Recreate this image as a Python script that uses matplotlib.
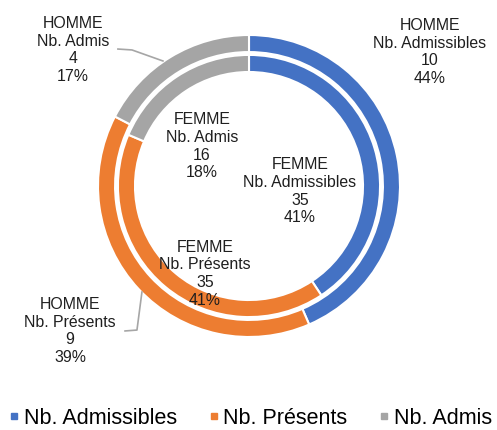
import matplotlib.pyplot as plt
from matplotlib.lines import Line2D

plt.rcParams['font.family'] = ['Liberation Sans', 'DejaVu Sans']

categories = ['Nb. Admissibles', 'Nb. Présents', 'Nb. Admis']
homme = [10, 9, 4]
femme = [35, 35, 16]
homme_pct = ['44%', '39%', '17%']
femme_pct = ['41%', '41%', '18%']
colors = ['#4472C4', '#ED7D31', '#A5A5A5']
text_col = '#1f1f1f'

W, H = 497, 430
cx, cy, R = 249, 186, 151

fig = plt.figure(figsize=(W / 100, H / 100), dpi=100)
ax = fig.add_axes([(cx - R) / W, (H - cy - R) / H, 2 * R / W, 2 * R / H])
ax.set_axis_off()

ring_w = 0.113
ax.pie(homme, radius=1.0, colors=colors, startangle=90, counterclock=False,
       wedgeprops=dict(width=ring_w, edgecolor='white', linewidth=1.5))
ax.pie(femme, radius=0.868, colors=colors, startangle=90, counterclock=False,
       wedgeprops=dict(width=ring_w, edgecolor='white', linewidth=1.5))
ax.set_xlim(-1, 1)
ax.set_ylim(-1, 1)

# label positions in data coords
h_pos = [(1.199, 0.887), (-1.185, -0.960), (-1.166, 0.901)]
f_pos = [(0.338, -0.036), (-0.291, -0.580), (-0.311, 0.262)]

for i, c in enumerate(categories):
    ax.text(h_pos[i][0], h_pos[i][1], f"HOMME\n{c}\n{homme[i]}\n{homme_pct[i]}",
            ha='center', va='center', fontsize=11.4, color=text_col,
            linespacing=1.22, clip_on=False)
    ax.text(f_pos[i][0], f_pos[i][1], f"FEMME\n{c}\n{femme[i]}\n{femme_pct[i]}",
            ha='center', va='center', fontsize=11.4, color=text_col,
            linespacing=1.22)

# leader lines
ax.plot([-0.868, -0.775, -0.570], [0.907, 0.901, 0.828], color='#A6A6A6',
        lw=1.2, clip_on=False)
ax.plot([-0.821, -0.742, -0.709], [-0.960, -0.954, -0.702], color='#A6A6A6',
        lw=1.2, clip_on=False)

handles = [Line2D([], [], marker='s', linestyle='None', markersize=4.6,
                  color=col) for col in colors]
fig.legend(handles, categories, loc='center', bbox_to_anchor=(0.505, 1 - 418 / H),
           ncol=3, frameon=False, fontsize=15.5, handlelength=0.4,
           handletextpad=0.25, columnspacing=1.5,
           borderpad=0, labelcolor='black')

fig.savefig('out.png', dpi=100)
